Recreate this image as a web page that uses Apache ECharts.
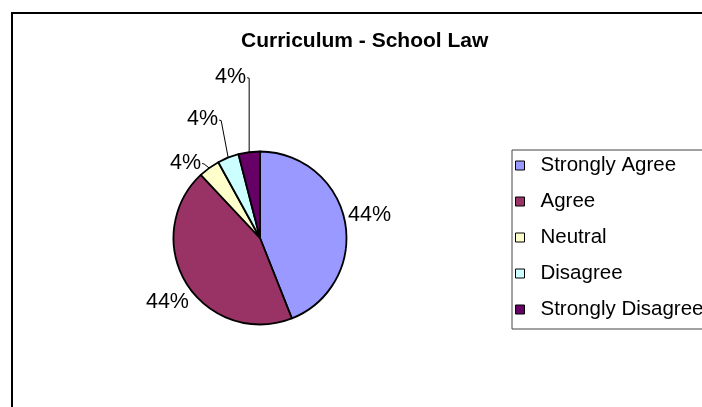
<!DOCTYPE html>
<html>
<head>
<meta charset="utf-8">
<script src="https://cdn.jsdelivr.net/npm/echarts@6/dist/echarts.min.js"></script>
<style>
  html, body { margin: 0; padding: 0; background: #fff; }
  #chart { width: 702px; height: 407px; }
</style>
</head>
<body>
<div id="chart"></div>
<script>
// Survey answers for the "School Law" curriculum question
const categories = ['Strongly Agree', 'Agree', 'Neutral', 'Disagree', 'Strongly Disagree'];
const responses = [11, 11, 1, 1, 1];
const sliceColors = ['#9999FF', '#993366', '#FFFFCC', '#CCFFFF', '#660066'];

// Where each percentage label sits relative to its slice's outer midpoint:
// [dx, dy, text alignment, draw a leader line]
const labelPlacement = [
  [3, -7, 'left', false],
  [2, 18, 'right', false],
  [-8, -5, 'right', true],
  [-10, -38, 'right', true],
  [-3, -75, 'right', true]
];

const FONT = '"Liberation Sans", Arial, sans-serif';

const chart = echarts.init(document.getElementById('chart'), null, { renderer: 'canvas' });

chart.setOption({
  backgroundColor: '#ffffff',
  animation: false,
  title: {
    text: 'Curriculum - School Law',
    left: 236,
    top: 26,
    textStyle: { fontFamily: FONT, fontSize: 21, fontWeight: 'bold', color: '#000' }
  },
  graphic: [{
    type: 'rect',
    shape: { x: 12, y: 13, width: 740, height: 440 },
    style: { fill: 'none', stroke: '#000', lineWidth: 2 },
    silent: true,
    z: -1
  }],
  legend: {
    orient: 'vertical',
    left: 512,
    top: 150,
    padding: [5, 40, 9, 3],
    itemGap: 15,
    itemWidth: 9,
    itemHeight: 9,
    icon: 'rect',
    backgroundColor: '#fff',
    borderColor: '#444',
    borderWidth: 1,
    itemStyle: { borderColor: '#000', borderWidth: 1 },
    textStyle: { fontFamily: FONT, fontSize: 20.5, color: '#000', lineHeight: 21, padding: [0, 0, 0, 11] },
    data: categories
  },
  series: [{
    type: 'pie',
    center: [260, 238],
    radius: 86.5,
    startAngle: 90,
    clockwise: true,
    avoidLabelOverlap: false,
    itemStyle: { borderColor: '#000', borderWidth: 1.8 },
    label: {
      show: true,
      position: 'outside',
      formatter: p => Math.round(p.percent) + '%',
      fontFamily: FONT,
      fontSize: 21.5,
      color: '#000'
    },
    labelLine: {
      show: true,
      length: 5,
      length2: 5,
      lineStyle: { color: '#000', width: 1 }
    },
    labelLayout: params => {
      const pts = params.labelLinePoints;
      if (!pts) return {};
      const a = pts[0];
      const [dx, dy, align, leader] = labelPlacement[params.dataIndex];
      const lx = a[0] + dx;
      const ly = a[1] + dy;
      const linePts = leader
        ? [[a[0], a[1]], [lx + 3, ly + 1], [lx + 1, ly + 0.5]]
        : [[a[0], a[1]], [a[0], a[1]], [a[0], a[1]]];
      return {
        x: lx,
        y: ly,
        align: align,
        verticalAlign: 'middle',
        labelLinePoints: linePts
      };
    },
    data: categories.map((name, i) => ({
      name: name,
      value: responses[i],
      itemStyle: { color: sliceColors[i] },
      labelLine: { show: true, lineStyle: { opacity: labelPlacement[i][3] ? 1 : 0 } }
    }))
  }]
});
</script>
</body>
</html>
